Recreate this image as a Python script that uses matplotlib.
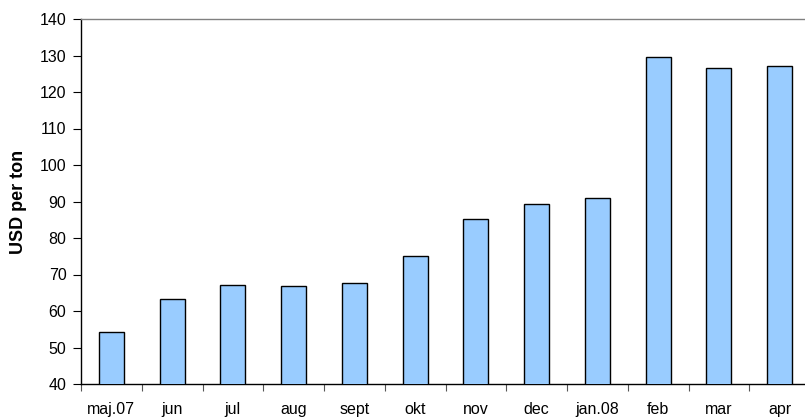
import numpy as np
import matplotlib
matplotlib.use("Agg")
import matplotlib.pyplot as plt
from matplotlib.ticker import FixedLocator

plt.rcParams['font.family'] = ['Liberation Sans', 'DejaVu Sans']

# data
maaneder = ['maj.07', 'jun', 'jul', 'aug', 'sept', 'okt', 'nov', 'dec',
            'jan.08', 'feb', 'mar', 'apr']
pris = [54.2, 63.2, 67.0, 66.8, 67.8, 75.2, 85.3, 89.2, 90.9, 129.5, 126.5, 127.0]
y_ticks = [40, 50, 60, 70, 80, 90, 100, 110, 120, 130, 140]

W, H = 805, 417
fig = plt.figure(figsize=(W / 100, H / 100), dpi=100)
# plot area: left 81px, top 19px, bottom 384px, right edge cropped (~810px)
ax = fig.add_axes([81 / W, (H - 384) / H, (810 - 81) / W, (384 - 19) / H])

x = np.arange(len(maaneder))
ax.bar(x, pris, width=0.41, color='#99CCFF', edgecolor='black', linewidth=1.0, zorder=3)

ax.set_xlim(-0.5, len(maaneder) - 0.5)
ax.set_ylim(40, 140)
ax.set_yticks(y_ticks)
ax.set_yticklabels([str(v) for v in y_ticks], fontsize=11.5)

ax.set_xticks(x)
ax.set_xticklabels(maaneder, fontsize=11.5)
ax.tick_params(axis='x', which='major', length=0, pad=13)
ax.xaxis.set_minor_locator(FixedLocator(np.arange(-0.5, len(maaneder), 1.0)))
ax.tick_params(axis='x', which='minor', length=5, width=0.8, color='#555555')
ax.tick_params(axis='y', length=5.5, width=0.8, pad=5)

ax.spines['right'].set_visible(False)
ax.spines['top'].set_color('#808080')
ax.spines['top'].set_linewidth(1.0)
ax.spines['left'].set_linewidth(1.0)
ax.spines['bottom'].set_linewidth(1.0)

ax.set_ylabel('USD per ton', fontsize=13, fontweight='bold', labelpad=9)

fig.savefig('out.png', dpi=100)
